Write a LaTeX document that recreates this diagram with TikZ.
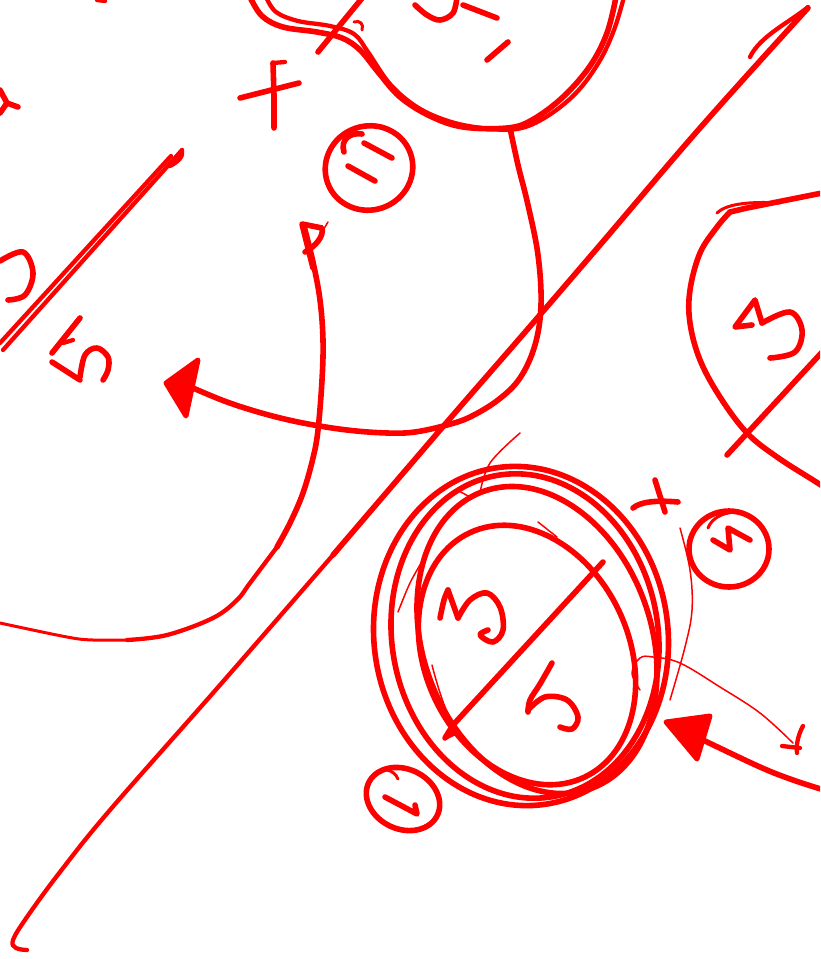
\documentclass[tikz,border=0pt]{standalone}
\usetikzlibrary{calc}
\definecolor{ink}{RGB}{255,0,0}
\begin{document}
\begin{tikzpicture}[x=1pt,y=-1pt,
  pen/.style={draw=ink, line width=5.6pt, line cap=round, line join=round},
  midpen/.style={draw=ink, line width=4.3pt, line cap=round, line join=round},
  lightpen/.style={draw=ink, line width=3pt, line cap=round, line join=round},
  thinpen/.style={draw=ink, line width=1.5pt, line cap=round, line join=round},
  head/.style={draw=ink, fill=ink, line width=5pt, line join=round},
  sm/.style={smooth, tension=0.6}]
\useasboundingbox (0,0) rectangle (820,959);
\clip (0,0) rectangle (820,959);

% ---- top circle (cut by top edge)
\draw[pen] plot[sm] coordinates {(250,-3) (262,16) (283,27) (317,32) (342,38) (360,50) (378,72) (400,97) (430,116) (463,127) (507,128) (532,120) (563,97) (590,66) (607,33) (616,-3)};
\draw[midpen] plot[sm] coordinates {(266,-3) (276,12) (298,21) (330,26) (354,34) (368,52) (390,84) (417,107) (448,121) (482,128) (517,129) (546,117) (576,93) (599,62) (614,30) (624,-3)};
\draw[pen] (363,-3) -- (318,52);
\draw[lightpen] (354,22) .. controls (360,20) and (364,24) .. (362,30);
\draw[pen] plot[sm] coordinates {(415,5) (427,15) (440,20) (453,13) (457,-3)};
\draw[pen] (463,5) -- (497,18);
\draw[pen] (508,42) -- (487,60);
\draw[midpen] (97,0) -- (105,1);

% ---- left edge marks
\draw[pen] (0,90) -- (7,103) -- (18,107);
\draw[pen] (7,103) -- (0,113);
\draw[pen] plot[sm] coordinates {(0,261) (23,252) (33,273) (25,295) (8,300)};
\draw[midpen] (182,150) -- (3,350);
\draw[midpen] (171,156) -- (0,343);
\draw[midpen] (182,150) .. controls (184,156) and (178,162) .. (170,166);

% ---- left "5"
\draw[pen] (80,318) -- (52,353);
\draw[midpen] (63,343) -- (73,340);
\draw[pen] (52,362) -- (80,380);
\draw[pen] plot[sm] coordinates {(80,377) (85,355) (97,348) (108,357) (108,370) (103,380)};

% ---- x mark
\draw[pen] (273,63) -- (274,95) -- (274,128);
\draw[midpen] (273,63) -- (285,62);
\draw[pen] (240,98) -- (299,83);

% ---- circled mark (top)
\draw[pen] (369,168) circle[x radius=44pt, y radius=42pt, rotate=20];
\draw[pen] (344,152) .. controls (340,140) and (350,132) .. (362,134);
\draw[pen] (348,166) -- (375,181);
\draw[pen] (364,143) -- (392,158);

% ---- P and long curve at left
\draw[pen] (313,268) -- (302,224) -- (322,228) .. controls (324,236) and (316,246) .. (305,252);
\draw[thinpen] (328,222) -- (322,232);
\draw[pen] plot[sm] coordinates {(304,226) (313,262) (320,300) (323,340) (322,380) (318,430) (313,458) (303,493) (290,523) (277,547)};
\draw[midpen] plot[sm] coordinates {(277,547) (250,583) (237,600) (213,618) (167,635) (127,640)};
\draw[lightpen] plot[sm] coordinates {(127,640) (93,640) (67,637) (0,623)};

% ---- S-curve with arrow to the left
\draw[pen] plot[sm] coordinates {(510,128) (518,165) (528,205) (538,255) (541,305) (535,345) (520,378) (498,400) (470,417) (447,425) (415,432) (387,433) (347,430) (303,423) (265,414) (227,402) (193,388)};
\fill[head] (166,383) -- (198,360) -- (186,416) -- cycle;

% ---- long diagonal line
\draw[midpen] (808,7) .. controls (790,22) and (760,36) .. (750,57);
\draw[pen] plot[sm] coordinates {(808,8) (700,128) (600,245) (520,338) (447,422) (333,555)};
\draw[midpen] plot[sm] coordinates {(333,555) (220,685) (110,810) (60,872) (27,917) (13,940) (16,948) (27,950)};

% ---- right partial shape
\draw[pen] (822,193) -- (747,208) -- (730,212);
\draw[lightpen] (717,213) .. controls (725,205) and (745,201) .. (780,203);
\draw[pen] plot[sm] coordinates {(730,212) (717,227) (700,253) (690,290) (690,323) (700,360) (720,397) (747,433) (777,457) (813,480) (824,487)};
\draw[pen] (824,350) -- (727,455);
\draw[pen] (752,325) -- (735,327) -- (755,300) -- (762,323);
\draw[pen] plot[sm] coordinates {(762,323) (790,312) (802,330) (795,352) (770,358)};

% ---- big rings
\draw[pen] (521,636) circle[x radius=147pt, y radius=170pt, rotate=8];
\draw[pen] (525,636) circle[x radius=133pt, y radius=163pt, rotate=10];
\draw[pen] (537,640) circle[x radius=114pt, y radius=158pt, rotate=20];
\draw[pen] (527,655) circle[x radius=102pt, y radius=135pt, rotate=25];
\draw[pen] (603,562) -- (453,725) -- (445,738);
\draw[midpen] (445,738) -- (457,732);
% digits inside
\draw[pen] plot[sm] coordinates {(440,618) (444,600) (448,590)};
\draw[pen] (448,590) -- (458,618);
\draw[pen] plot[sm] coordinates {(458,618) (470,600) (487,593) (500,607) (503,630) (493,642) (480,635) (488,630)};
\draw[pen] plot[sm] coordinates {(552,663) (540,684) (530,700) (528,712)};
\draw[pen] plot[sm] coordinates {(528,710) (545,697) (567,700) (578,717) (572,729) (560,727)};
% thin strokes
\draw[thinpen] plot[sm] coordinates {(480,493) (490,463) (520,433)};
\draw[thinpen] plot[sm] coordinates {(398,612) (410,583) (423,560)};
\draw[thinpen] plot[sm] coordinates {(680,528) (690,570) (692,610) (685,647) (670,700)};
\draw[thinpen] plot[sm] coordinates {(432,665) (450,718) (485,762) (520,780)};
\draw[thinpen] (538,522) -- (557,537);
\draw[thinpen] (457,490) -- (470,497);
\draw[thinpen] plot[sm] coordinates {(640,690) (632,673) (640,658) (653,657) (680,663) (720,687) (760,713) (793,743)};
\draw[midpen] (782,746) -- (800,748);
\draw[midpen] (803,726) .. controls (798,735) and (796,745) .. (797,753);

% ---- "4" mark
\draw[pen] (633,508) .. controls (640,502) and (655,500) .. (678,502);
\draw[pen] (655,480) -- (665,512);

% ---- circled mark (right)
\draw[pen] (729,549) circle[x radius=40pt, y radius=38pt];
\draw[lightpen] (708,528) .. controls (712,518) and (722,513) .. (735,512);
\draw[pen] (713,540) -- (730,550) -- (728,528) -- (750,540);

% ---- arrow from the right
\draw[pen] plot[sm] coordinates {(824,790) (793,780) (760,767) (703,740)};
\fill[head] (666,722) -- (710,716) -- (697,759) -- cycle;

% ---- circled mark (bottom)
\draw[pen] (403,799) circle[x radius=38pt, y radius=30pt, rotate=-25];
\draw[lightpen] (387,770) .. controls (392,771) and (396,774) .. (398,779);
\draw[pen] (385,797) -- (417,814) -- (415,805);
\end{tikzpicture}
\end{document}
